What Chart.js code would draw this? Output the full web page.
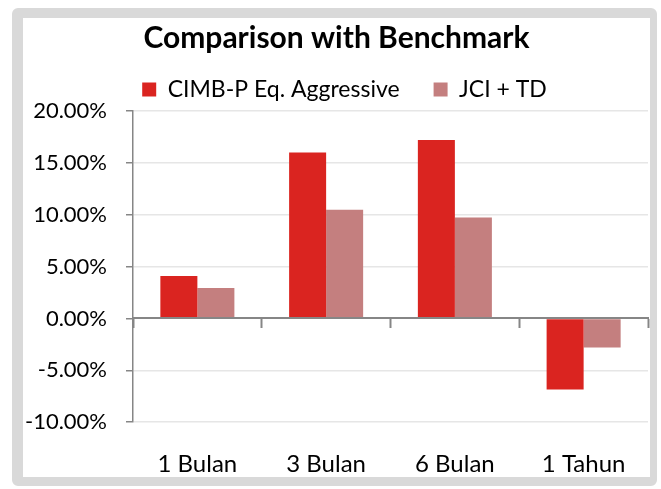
<!DOCTYPE html>
<html><head><meta charset="utf-8">
<script src="https://cdn.jsdelivr.net/npm/chart.js@4"></script>
<style>
html,body{margin:0;padding:0;background:#fff;}
#wrap{position:relative;width:661px;height:489px;overflow:hidden;}
#frame{position:absolute;left:12px;top:8px;width:645px;height:478px;box-sizing:border-box;border-style:solid;border-color:#d9d9d9;border-width:10px 7px 9px 11px;border-radius:6px;background:#fff;}
canvas{position:absolute;left:0;top:0;}
</style></head><body>
<div id="wrap"><div id="frame"></div><canvas id="c" width="661" height="489"></canvas></div>
<script>
const categories = ['1 Bulan', '3 Bulan', '6 Bulan', '1 Tahun'];
const seriesNames = ['CIMB-P Eq. Aggressive', 'JCI + TD'];
const fundValues = [4.09, 16.0, 17.2, -6.85];
const benchValues = [2.93, 10.47, 9.73, -2.8];
const yTickValues = [-10, -5, 0, 5, 10, 15, 20];
const titleText = 'Comparison with Benchmark';

const FONT = 'Lato';
const AXIS = '#868686';

const legendShift = {
  id: 'legendShift',
  afterLayout(chart) {
    if (chart.legend) { chart.legend.left += 8; chart.legend.right += 8; }
  }
};

new Chart(document.getElementById('c'), {
  type: 'bar',
  data: {
    labels: categories,
    datasets: [
      { label: seriesNames[0], data: fundValues, backgroundColor: '#DA2420', borderWidth: 0, categoryPercentage: 0.575, barPercentage: 1 },
      { label: seriesNames[1], data: benchValues, backgroundColor: '#C47F7F', borderWidth: 0, categoryPercentage: 0.575, barPercentage: 1 }
    ]
  },
  plugins: [legendShift],
  options: {
    responsive: false,
    animation: false,
    devicePixelRatio: 1,
    layout: { padding: { left: 25, right: 13, top: 0, bottom: -18 } },
    plugins: {
      title: { display: true, text: titleText, color: '#000', font: { family: FONT, size: 30, weight: 'bold' }, padding: { top: 20, bottom: -12 } },
      legend: { display: true, labels: { boxWidth: 14, boxHeight: 14, padding: 34, color: '#000', font: { family: FONT, size: 23, lineHeight: 1.4 } } },
      tooltip: { enabled: false }
    },
    scales: {
      x: {
        position: 'bottom',
        grid: { display: false, drawTicks: false },
        border: { display: false },
        ticks: { color: '#000', font: { family: FONT, size: 24 }, padding: 28 }
      },
      x0: {
        type: 'category', axis: 'x', labels: categories, position: { y: 0 }, offset: true,
        afterFit: axis => { axis.height = 0; },
        grid: { offset: true, drawOnChartArea: false, drawTicks: true, tickLength: 9, tickColor: AXIS, tickWidth: 2 },
        border: { display: true, color: AXIS, width: 2, z: 1 },
        ticks: { display: false }
      },
      y: {
        min: -10, max: 20,
        afterBuildTicks: axis => { axis.ticks = yTickValues.map(v => ({ value: v })); },
        afterFit: axis => { axis.width = 108; },
        grid: { color: ctx => (ctx.tick && ctx.tick.value === 0) ? 'rgba(0,0,0,0)' : '#e6e6e6', lineWidth: 1.5, tickColor: AXIS, tickLength: 7, drawTicks: true },
        border: { color: AXIS, width: 1.5 },
        ticks: { color: '#000', font: { family: FONT, size: 22 }, padding: 19, callback: v => v.toFixed(2) + '%' }
      }
    }
  }
});
</script>
</body></html>
